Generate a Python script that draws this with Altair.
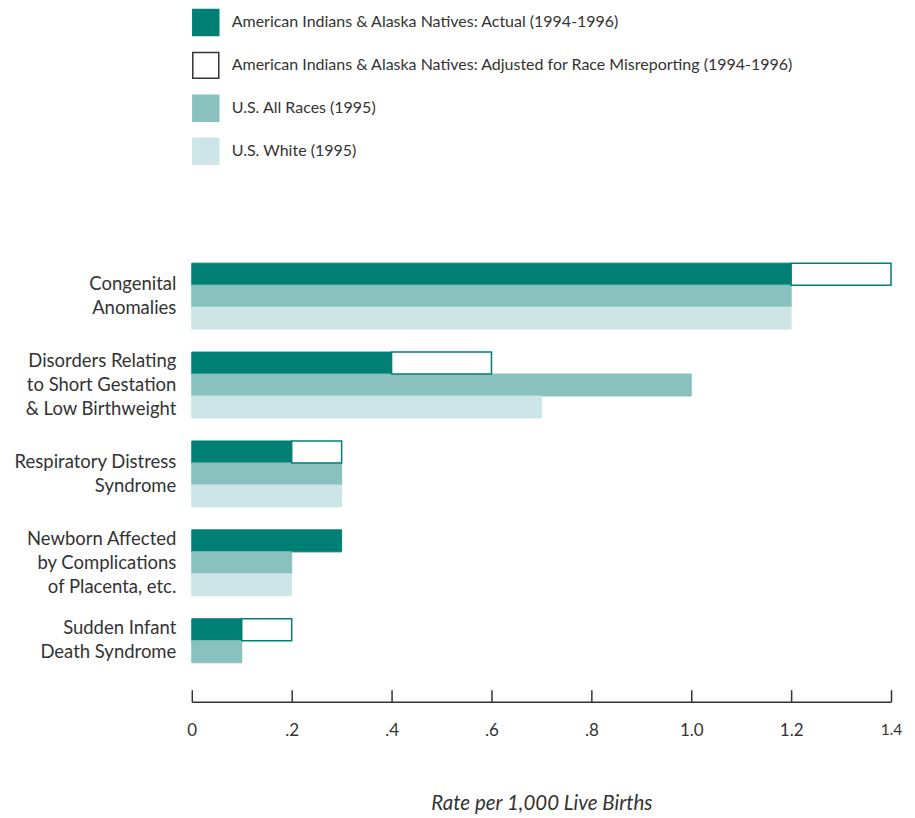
import altair as alt
import pandas as pd

FONT = "Lato"
TEXT = "#333333"

categories = [
    "Congenital|Anomalies",
    "Disorders Relating|to Short Gestation|& Low Birthweight",
    "Respiratory Distress|Syndrome",
    "Newborn Affected|by Complications|of Placenta, etc.",
    "Sudden Infant|Death Syndrome",
]
aian_actual = [1.2, 0.4, 0.2, 0.3, 0.1]
aian_adjusted = [1.4, 0.6, 0.3, None, 0.2]
us_all_races = [1.2, 1.0, 0.3, 0.2, 0.1]
us_white = [1.2, 0.7, 0.3, 0.2, None]

series_names = [
    "American Indians & Alaska Natives: Actual (1994-1996)",
    "American Indians & Alaska Natives: Adjusted for Race Misreporting (1994-1996)",
    "U.S. All Races (1995)",
    "U.S. White (1995)",
]
fill_colors = ["#007f75", "#ffffff", "#88c1bd", "#cde5e6"]
stroke_colors = ["#007f75", "#333333", "#88c1bd", "#cde5e6"]
x_ticks = [0, 0.2, 0.4, 0.6, 0.8, 1.0, 1.2, 1.4]
slots = ["a", "b", "c"]

rows = []
for i, cat in enumerate(categories):
    for s, vals, slot in [(series_names[0], aian_actual, "a"),
                          (series_names[2], us_all_races, "b"),
                          (series_names[3], us_white, "c")]:
        if vals[i] is not None:
            rows.append({"category": cat, "series": s, "slot": slot, "value": vals[i]})
bars = pd.DataFrame(rows)

adj_rows = []
for i, cat in enumerate(categories):
    if aian_adjusted[i] is not None:
        adj_rows.append({"category": cat, "series": series_names[1], "slot": "a",
                         "start": aian_actual[i], "end": aian_adjusted[i]})
adj = pd.DataFrame(adj_rows)

legend = alt.Legend(
    title=None, orient="none", legendX=0, legendY=-238, symbolType="square",
    symbolSize=676, symbolStrokeWidth=1.5, labelFontSize=16, labelFont=FONT,
    labelColor=TEXT, labelOffset=12, rowPadding=11, padding=0, labelLimit=0,
    symbolOpacity=1,
)
color_scale = alt.Scale(domain=series_names, range=fill_colors)
stroke_scale = alt.Scale(domain=series_names, range=stroke_colors)

y_enc = alt.Y(
    "category:N", sort=categories,
    scale=alt.Scale(paddingInner=23 / 89, paddingOuter=17 / 89),
    axis=alt.Axis(
        title=None, domain=False, ticks=False,
        labelExpr="split(datum.label, '|')", labelFont=FONT, labelFontSize=18.5,
        labelLineHeight=24, labelPadding=16, labelColor=TEXT, labelLimit=0,
        labelOffset={"condition": {
            "test": "length(split(datum.value, '|')) == 3 || indexof(datum.value, 'Sudden') >= 0",
            "value": -24}, "value": -12},
    ),
)
yoff_enc = alt.YOffset("slot:N", scale=alt.Scale(domain=slots, paddingInner=0, paddingOuter=0))

x_axis = alt.Axis(
    values=x_ticks, grid=False, title="Rate per 1,000 Live Births", labelFlush=False,
    labelExpr="datum.value == 0 ? '0' : (datum.value < 1 ? replace(format(datum.value, '.1f'), '0.', '.') : format(datum.value, '.1f'))",
    labelFont=FONT, labelFontSize={"condition": {"test": "datum.value == 1.4", "value": 15.5}, "value": 17},
    labelColor=TEXT, labelPadding=33, tickSize=alt.ExprRef(expr="-12"),
    tickColor=TEXT, tickWidth=1.5, domainColor=TEXT, domainWidth=1.5,
    titleFont=FONT, titleFontSize=20.5, titleFontStyle="italic", titleFontWeight="normal",
    titleColor=TEXT, titlePadding=55,
)

base_bars = alt.Chart(bars).mark_bar().encode(
    y=y_enc,
    yOffset=yoff_enc,
    x=alt.X("value:Q", scale=alt.Scale(domain=[0, 1.4], nice=False), axis=x_axis),
    fill=alt.Fill("series:N", scale=color_scale, legend=legend),
    stroke=alt.Stroke("series:N", scale=stroke_scale, legend=legend),
)

adj_bars = alt.Chart(adj).mark_bar(stroke="#007f75", strokeWidth=1.5).encode(
    y=y_enc,
    yOffset=yoff_enc,
    x=alt.X("start:Q"),
    x2="end:Q",
    fill=alt.Fill("series:N", scale=color_scale, legend=legend),
)

chart = alt.layer(base_bars, adj_bars).properties(
    width=700, height=456,
    padding={"left": 5, "top": 0, "right": 5, "bottom": 5},
).configure_view(stroke=None)

chart.save("out.html", embed_options={"renderer": "svg", "actions": False})
